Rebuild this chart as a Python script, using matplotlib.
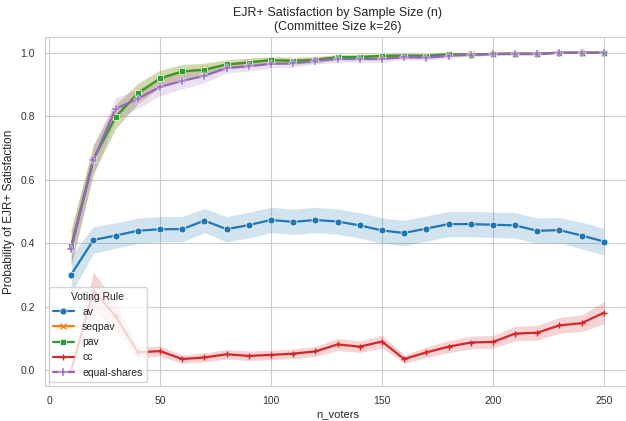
import matplotlib
matplotlib.use("Agg")
import matplotlib.pyplot as plt
import seaborn as sns

# n_voters on the x axis
n_voters = list(range(10, 251, 10))

# mean probability of EJR+ satisfaction per rule
av = [0.301, 0.410, 0.424, 0.439, 0.444, 0.444, 0.471, 0.444, 0.457, 0.473,
      0.467, 0.473, 0.468, 0.456, 0.440, 0.432, 0.446, 0.460, 0.460, 0.458,
      0.456, 0.439, 0.441, 0.424, 0.405]
seqpav = [0.390, 0.665, 0.800, 0.870, 0.918, 0.940, 0.947, 0.962, 0.970, 0.976,
          0.975, 0.978, 0.985, 0.987, 0.989, 0.990, 0.990, 0.994, 0.995, 0.996,
          0.997, 0.997, 1.000, 1.000, 1.000]
pav = [0.390, 0.664, 0.797, 0.872, 0.919, 0.941, 0.946, 0.963, 0.969, 0.977,
       0.974, 0.977, 0.986, 0.986, 0.990, 0.991, 0.990, 0.995, 0.994, 0.996,
       0.997, 0.996, 1.000, 1.000, 1.000]
cc = [0.000, 0.250, 0.170, 0.056, 0.060, 0.035, 0.040, 0.050, 0.045, 0.048,
      0.052, 0.059, 0.081, 0.074, 0.090, 0.035, 0.056, 0.074, 0.087, 0.089,
      0.115, 0.118, 0.141, 0.148, 0.181]
equal_shares = [0.382, 0.662, 0.823, 0.855, 0.892, 0.911, 0.927, 0.952, 0.957, 0.965,
                0.966, 0.975, 0.980, 0.980, 0.980, 0.986, 0.984, 0.990, 0.994, 0.996,
                0.997, 0.996, 1.000, 1.000, 1.000]

# half widths of the confidence bands
av_ci = [0.060, 0.042, 0.040, 0.040, 0.040, 0.040, 0.038, 0.040, 0.040, 0.040,
         0.040, 0.040, 0.040, 0.040, 0.040, 0.040, 0.040, 0.040, 0.040, 0.040,
         0.040, 0.040, 0.040, 0.042, 0.042]
seqpav_ci = [0.055, 0.045, 0.038, 0.032, 0.026, 0.022, 0.020, 0.015, 0.013, 0.011,
             0.011, 0.010, 0.008, 0.008, 0.007, 0.007, 0.007, 0.005, 0.005, 0.004,
             0.004, 0.004, 0.000, 0.000, 0.000]
pav_ci = seqpav_ci
cc_ci = [0.003, 0.060, 0.045, 0.016, 0.016, 0.013, 0.014, 0.015, 0.015, 0.015,
         0.015, 0.016, 0.019, 0.018, 0.020, 0.013, 0.017, 0.019, 0.020, 0.020,
         0.023, 0.023, 0.025, 0.026, 0.035]
equal_shares_ci = [0.055, 0.045, 0.035, 0.030, 0.028, 0.025, 0.022, 0.016, 0.015, 0.013,
                   0.012, 0.011, 0.010, 0.010, 0.010, 0.008, 0.008, 0.006, 0.005, 0.004,
                   0.004, 0.004, 0.000, 0.000, 0.000]

rules = ["av", "seqpav", "pav", "cc", "equal-shares"]
means = [av, seqpav, pav, cc, equal_shares]
cis = [av_ci, seqpav_ci, pav_ci, cc_ci, equal_shares_ci]
colors = ["#1f77b4", "#ff7f0e", "#2ca02c", "#d62728", "#9467bd"]
markers = ["o", "x", "s", "+", "P"]

sns.set_style("whitegrid")
plt.rcParams['font.family'] = ['Liberation Sans', 'DejaVu Sans']

fig = plt.figure(figsize=(6.26, 4.21), dpi=100)
ax = fig.add_axes([0.0712, 0.0831, 0.936, 0.8295])

for name, m, c, col, mk in zip(rules, means, cis, colors, markers):
    lo = [a - b for a, b in zip(m, c)]
    hi = [a + b for a, b in zip(m, c)]
    ax.fill_between(n_voters, lo, hi, color=col, alpha=0.2, linewidth=0)
    if mk in ("x", "+"):
        ax.plot(n_voters, m, color=col, marker=mk, markersize=4.5, linewidth=1.6,
                markeredgewidth=1.0, label=name)
    elif mk == "P":
        ax.plot(n_voters, m, color=col, marker=mk, markersize=5.5, linewidth=1.6,
                markeredgecolor="w", markeredgewidth=0.35, label=name)
    else:
        ax.plot(n_voters, m, color=col, marker=mk, markersize=5, linewidth=1.6,
                markeredgecolor="w", markeredgewidth=0.5, label=name)

ax.set_xlim(-2, 262)
ax.set_ylim(-0.05, 1.05)
ax.set_yticks([0.0, 0.2, 0.4, 0.6, 0.8, 1.0])
ax.set_yticklabels(["0.0", "0.2", "0.4", "0.6", "0.8", "1.0"])
ax.tick_params(labelsize=7.5, colors="#333333")
ax.set_title("EJR+ Satisfaction by Sample Size (n)\n(Committee Size k=26)",
             fontsize=9, color="#262626", pad=5)
ax.set_xlabel("n_voters", fontsize=8, color="#262626", labelpad=3)
ax.set_ylabel("Probability of EJR+ Satisfaction", fontsize=8.5, color="#262626")

leg = ax.legend(title="Voting Rule", loc="lower left", fontsize=7.5,
                title_fontsize=7.5, borderaxespad=0.4)

fig.savefig("out.png", dpi=100)
